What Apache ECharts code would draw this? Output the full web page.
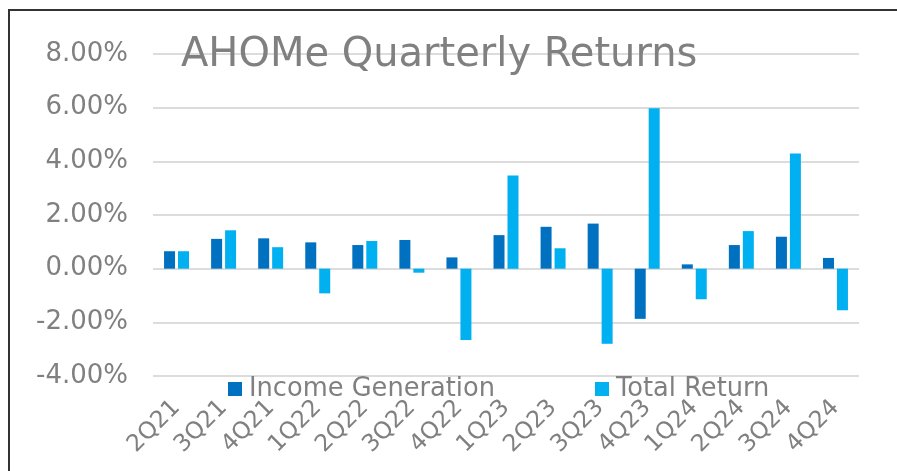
<!DOCTYPE html>
<html>
<head>
<meta charset="utf-8">
<script src="https://cdn.jsdelivr.net/npm/echarts@6/dist/echarts.min.js"></script>
<style>
html,body{margin:0;padding:0;background:#fff;}
#chart{width:897px;height:471px;}
</style>
</head>
<body>
<div id="chart"></div>
<script>
const categories = ['2Q21','3Q21','4Q21','1Q22','2Q22','3Q22','4Q22','1Q23','2Q23','3Q23','4Q23','1Q24','2Q24','3Q24','4Q24'];
const incomeGeneration = [0.65, 1.11, 1.13, 0.98, 0.88, 1.07, 0.42, 1.25, 1.56, 1.68, -1.87, 0.16, 0.88, 1.19, 0.40];
const totalReturn = [0.65, 1.43, 0.80, -0.92, 1.03, -0.15, -2.66, 3.47, 0.76, -2.80, 5.98, -1.14, 1.40, 4.29, -1.55];
const yTicks = [-4, -2, 0, 2, 4, 6, 8];

const gray = '#808080';
const font = 'DejaVu Sans';
const chart = echarts.init(document.getElementById('chart'));
chart.setOption({
  backgroundColor: '#fff',
  animation: false,
  title: {
    text: 'AHOMe Quarterly Returns',
    left: 181, top: 36, padding: 0,
    textStyle: {fontFamily: font, fontSize: 40, fontWeight: 'normal', color: gray}
  },
  legend: [
    {data: ['Income Generation'], left: 228, top: 376, padding: 0, itemWidth: 14, itemHeight: 14, itemGap: 0,
     icon: 'rect', textStyle: {fontFamily: font, fontSize: 25.7, color: gray, padding: [0,0,0,2]}},
    {data: ['Total Return'], left: 595, top: 376, padding: 0, itemWidth: 14, itemHeight: 14, itemGap: 0,
     icon: 'rect', textStyle: {fontFamily: font, fontSize: 25.7, color: gray, padding: [0,0,0,2]}}
  ],
  grid: {left: 153, right: 38, top: 54, bottom: 95, containLabel: false},
  xAxis: {
    type: 'category', data: categories,
    axisLine: {show: false}, axisTick: {show: false},
    axisLabel: {rotate: 45, fontFamily: font, fontSize: 23.5, color: gray, margin: 28, interval: 0}
  },
  yAxis: {
    type: 'value', min: yTicks[0], max: yTicks[yTicks.length-1], interval: 2,
    axisLine: {show: false}, axisTick: {show: false},
    splitLine: {lineStyle: {color: '#dcdcdc', width: 2}},
    axisLabel: {fontFamily: font, fontSize: 26, color: gray, margin: 25,
      formatter: v => v.toFixed(2) + '%'}
  },
  series: [
    {name: 'Income Generation', type: 'bar', data: incomeGeneration, barWidth: 11, barGap: '27%',
     itemStyle: {color: '#0070C0'}},
    {name: 'Total Return', type: 'bar', data: totalReturn, barWidth: 11,
     itemStyle: {color: '#00B0F0'}}
  ],
  graphic: [{
    type: 'rect', shape: {x: 9, y: 10, width: 1000, height: 1000},
    style: {fill: 'none', stroke: '#333', lineWidth: 2}, silent: true, z: 100
  }]
});
</script>
</body>
</html>
